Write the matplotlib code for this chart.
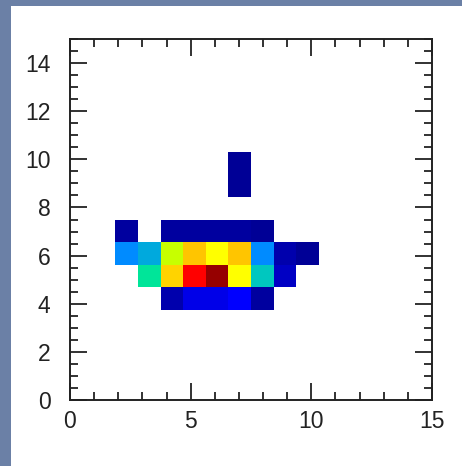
import matplotlib
matplotlib.use('Agg')
import matplotlib.pyplot as plt
from matplotlib.patches import Rectangle
from matplotlib.ticker import MultipleLocator
from matplotlib.colors import LinearSegmentedColormap
import numpy as np

# 16 x 16 bins over 0..15 on both axes
n_bins = 16
x_edges = np.linspace(0, 15, n_bins + 1)
y_edges = np.linspace(0, 15, n_bins + 1)

# filled columns 2..10, rows from bottom (row index 4..10), nan = empty
first_col = 2
nan = np.nan
row_4 = [nan, nan, 0.04, 0.09, 0.09, 0.11, 0.03, nan, nan]
row_5 = [nan, 0.42, 0.69, 0.89, 0.98, 0.655, 0.36, 0.06, nan]
row_6 = [0.26, 0.30, 0.58, 0.70, 0.655, 0.70, 0.26, 0.04, 0.02]
row_7 = [0.03, nan, 0.03, 0.03, 0.03, 0.03, 0.02, nan, nan]
row_9 = [nan, nan, nan, nan, nan, 0.02, nan, nan, nan]
row_10 = [nan, nan, nan, nan, nan, 0.02, nan, nan, nan]
rows = {4: row_4, 5: row_5, 6: row_6, 7: row_7, 9: row_9, 10: row_10}

grid = np.full((n_bins, n_bins), np.nan)
for r, vals in rows.items():
    grid[r, first_col:first_col + len(vals)] = vals
grid = np.ma.masked_invalid(grid)

# jet-like rainbow, a bit greener in the cyan part
rainbow = LinearSegmentedColormap.from_list('rainbow_idl', [
    (0.00, (0.0, 0.0, 0.5)),
    (0.11, (0.0, 0.0, 1.0)),
    (0.26, (0.0, 0.55, 1.0)),
    (0.30, (0.0, 0.67, 0.86)),
    (0.36, (0.0, 0.78, 0.75)),
    (0.42, (0.0, 0.9, 0.6)),
    (0.58, (0.78, 1.0, 0.0)),
    (0.655, (1.0, 1.0, 0.0)),
    (0.70, (1.0, 0.78, 0.0)),
    (0.89, (1.0, 0.0, 0.0)),
    (1.00, (0.5, 0.0, 0.0)),
])

fig = plt.figure(figsize=(4.62, 4.66), dpi=100, facecolor='#6b80a6')
# white slide panel
fig.patches.append(Rectangle((11 / 462, 0), 1, 460 / 466, transform=fig.transFigure,
                             facecolor='white', edgecolor='none', zorder=-5))

ax = fig.add_axes([70 / 462, 66 / 466, 362 / 462, 361 / 466])
ax.pcolormesh(x_edges, y_edges, grid, cmap=rainbow, vmin=0, vmax=1)
ax.set_xlim(0, 15)
ax.set_ylim(0, 15)

ax.xaxis.set_major_locator(MultipleLocator(5))
ax.xaxis.set_minor_locator(MultipleLocator(1))
ax.yaxis.set_major_locator(MultipleLocator(2))
ax.yaxis.set_minor_locator(MultipleLocator(0.5))
ax.tick_params(which='both', direction='in', top=True, right=True, width=1.3,
               color='#222222', labelsize=16.5, labelcolor='#222222')
ax.tick_params(which='major', length=12)
ax.tick_params(which='minor', length=6)
ax.tick_params(axis='x', pad=7)
ax.tick_params(axis='y', pad=14)
for lab in ax.get_xticklabels() + ax.get_yticklabels():
    lab.set_family('Liberation Sans')
for s in ax.spines.values():
    s.set_linewidth(1.4)
    s.set_color('#222222')

plt.savefig('out.png', dpi=100, facecolor=fig.get_facecolor())
